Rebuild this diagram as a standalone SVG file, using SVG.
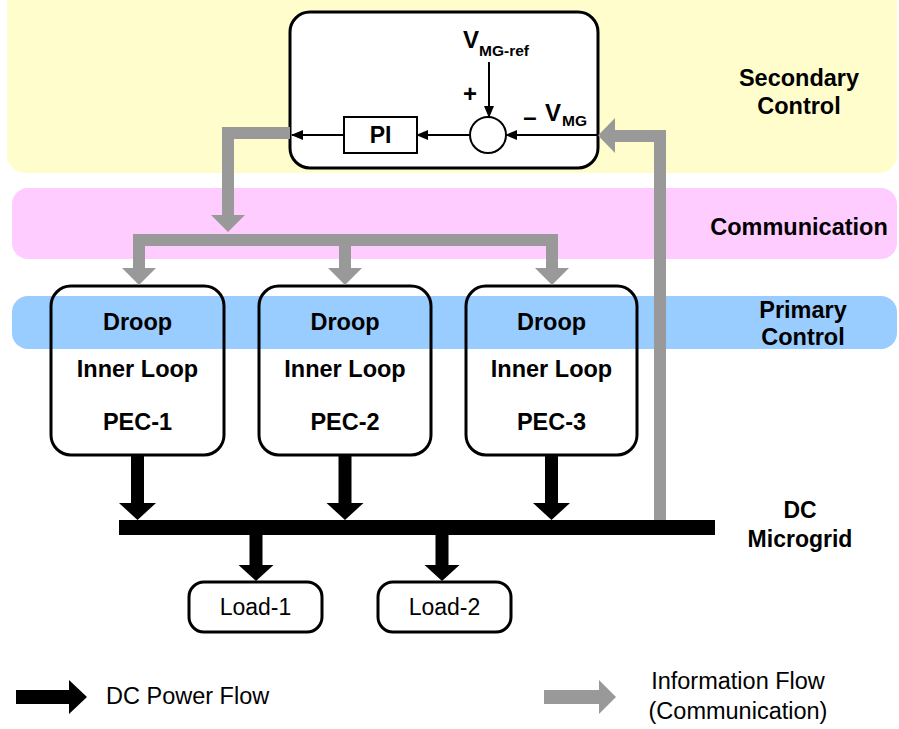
<svg xmlns="http://www.w3.org/2000/svg" width="899" height="729" viewBox="0 0 899 729">
<defs>
<style>
.t{font-family:"Liberation Sans",Arial,sans-serif;fill:#000}
.b{font-weight:bold}
.box{fill:none;stroke:#000;stroke-width:3}
.wbox{fill:#fff;stroke:#000;stroke-width:3}
.thin{stroke:#000;stroke-width:2;fill:none}
.gray{fill:none;stroke:#999;stroke-width:12;stroke-linejoin:miter}
.gfill{fill:#999}
</style>
<marker id="ah" markerWidth="12" markerHeight="10" refX="11" refY="5" orient="auto" markerUnits="userSpaceOnUse">
<path d="M0,0 L12,5 L0,10 Z" fill="#000"/>
</marker>
</defs>
<rect width="899" height="729" fill="#fff"/>
<g id="bands">
<rect x="7" y="-20" width="890" height="193" rx="18" fill="#FFFDCC"/>
<rect x="12" y="188" width="885" height="71" rx="16" fill="#FFCCFF"/>
<rect x="12" y="296" width="885" height="53" rx="16" fill="#99CCFF"/>
</g>
<g id="band-labels" class="t b" font-size="23.5" text-anchor="middle">
<text x="799" y="86">Secondary</text>
<text x="799" y="114">Control</text>
<text x="799" y="235">Communication</text>
<text x="803" y="318">Primary</text>
<text x="803" y="345">Control</text>
</g>
<g id="secondary">
<rect class="wbox" x="290" y="12" width="308" height="156" rx="20"/>
<rect x="344" y="117" width="73" height="36" fill="#fff" stroke="#000" stroke-width="2"/>
<text class="t b" x="380.5" y="143" font-size="23" text-anchor="middle">PI</text>
<circle cx="488" cy="135" r="18" fill="#fff" stroke="#000" stroke-width="2"/>
<text class="t b" x="463" y="48" font-size="24">V</text>
<text class="t b" x="479" y="56" font-size="15.5">MG-ref</text>
<text class="t b" x="470" y="102" font-size="24" text-anchor="middle">+</text>
<text class="t b" x="530" y="125" font-size="24" text-anchor="middle">–</text>
<text class="t b" x="545" y="121" font-size="24">V</text>
<text class="t b" x="562" y="126" font-size="15.5">MG</text>
</g>
<g id="pec1">
<rect class="box" x="51" y="286" width="173" height="169" rx="20"/>
<g class="t b" font-size="23.5" text-anchor="middle"><text x="137.5" y="330">Droop</text><text x="137.5" y="377">Inner Loop</text><text x="137.5" y="430">PEC-1</text></g>
</g>
<g id="pec2">
<rect class="box" x="259" y="286" width="172" height="169" rx="20"/>
<g class="t b" font-size="23.5" text-anchor="middle"><text x="345" y="330">Droop</text><text x="345" y="377">Inner Loop</text><text x="345" y="430">PEC-2</text></g>
</g>
<g id="pec3">
<rect class="box" x="466" y="286" width="171" height="169" rx="20"/>
<g class="t b" font-size="23.5" text-anchor="middle"><text x="551.5" y="330">Droop</text><text x="551.5" y="377">Inner Loop</text><text x="551.5" y="430">PEC-3</text></g>
</g>
<g id="bus">
<rect x="119" y="520" width="596" height="15" fill="#000"/>
<text class="t b" x="800" y="518" font-size="23" text-anchor="middle">DC</text>
<text class="t b" x="800" y="547" font-size="23" text-anchor="middle">Microgrid</text>
</g>
<g id="load1">
<rect class="wbox" x="189" y="582" width="133" height="50" rx="15"/>
<text class="t" x="255.5" y="615" font-size="23" text-anchor="middle">Load-1</text>
</g>
<g id="load2">
<rect class="wbox" x="378" y="582" width="133" height="50" rx="15"/>
<text class="t" x="444.5" y="615" font-size="23" text-anchor="middle">Load-2</text>
</g>
<g id="connectors">
<line class="thin" x1="489" y1="62" x2="489" y2="117" marker-end="url(#ah)"/>
<line class="thin" x1="598" y1="135" x2="506" y2="135" marker-end="url(#ah)"/>
<line class="thin" x1="470" y1="135" x2="417" y2="135" marker-end="url(#ah)"/>
<line class="thin" x1="344" y1="135" x2="292" y2="135" marker-end="url(#ah)"/>
<polyline class="gray" points="290,133 228,133 228,216"/>
<polygon class="gfill" points="211,215 245,215 228,232"/>
<polyline class="gray" points="139,269 139,240 552,240 552,269"/>
<line class="gray" x1="345" y1="240" x2="345" y2="269"/>
<polygon class="gfill" points="122,268 156,268 139,285"/>
<polygon class="gfill" points="328,268 362,268 345,285"/>
<polygon class="gfill" points="535,268 569,268 552,285"/>
<polyline class="gray" points="660,520 660,136 614,136"/>
<polygon class="gfill" points="615,118 615,153 598,135.5"/>
<g fill="#000">
<rect x="131" y="455" width="13" height="49"/><polygon points="119,503 156,503 137.5,520"/>
<rect x="338.5" y="455" width="13" height="49"/><polygon points="326.5,503 363.5,503 345,520"/>
<rect x="545" y="455" width="13" height="49"/><polygon points="533,503 570,503 551.5,520"/>
<rect x="249.5" y="535" width="13" height="31"/><polygon points="238.5,565 273.5,565 256,581"/>
<rect x="435.5" y="535" width="13" height="31"/><polygon points="424.5,565 459.5,565 442,581"/>
</g>
</g>
<g id="legend">
<polygon fill="#000" points="16,690 69,690 69,680 87,697 69,714 69,704 16,704"/>
<text class="t" x="106" y="704" font-size="23.5">DC Power Flow</text>
<polygon class="gfill" points="544,690 599,690 599,680 616,697 599,714 599,704 544,704"/>
<text class="t" x="738" y="689" font-size="23.5" text-anchor="middle">Information Flow</text>
<text class="t" x="738" y="719" font-size="23.5" text-anchor="middle">(Communication)</text>
</g>
</svg>
